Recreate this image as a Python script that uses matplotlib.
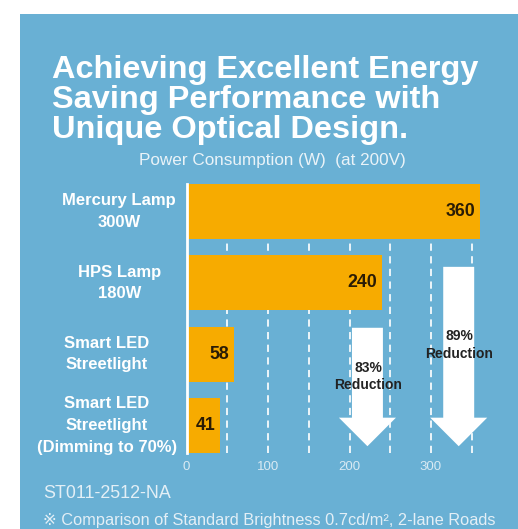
import matplotlib
matplotlib.use("Agg")
import matplotlib.pyplot as plt
from matplotlib.patches import Rectangle, FancyArrow

# ---- data ----
categories = ["Mercury Lamp\n300W", "HPS Lamp\n180W", "Smart LED\nStreetlight",
              "Smart LED\nStreetlight\n(Dimming to 70%)"]
power_w = [360, 240, 58, 41]
xticks = [0, 100, 200, 300]
title = "Achieving Excellent Energy\nSaving Performance with\nUnique Optical Design."
subtitle = "Power Consumption (W)  (at 200V)"
model = "ST011-2512-NA"
note = "\u203b Comparison of Standard Brightness 0.7cd/m\u00b2, 2-lane Roads"

# ---- style ----
BG = "#69b0d4"
BAR = "#f7ab00"
W, H = 518, 529
plt.rcParams['font.family'] = ['Liberation Sans', 'DejaVu Sans']

fig = plt.figure(figsize=(W / 100, H / 100), dpi=100)
fig.patch.set_facecolor("white")
fig.patches.append(Rectangle((20 / W, 0), 1, (H - 14) / H, transform=fig.transFigure,
                             facecolor=BG, edgecolor="none", zorder=-10))

def fx(px):
    return px / W

def fy(py):
    return 1 - py / H

# Title
fig.text(fx(52), fy(55), title, color="white", fontsize=23.4, fontweight="bold",
         ha="left", va="top", linespacing=0.99)
fig.text(fx(272), fy(160), subtitle, color="#eaf3f8", fontsize=12.3, ha="center", va="center")

# Axes
ax = fig.add_axes([fx(186.5), fy(453), (326) / W, (453 - 184) / H])
ax.set_zorder(2)
ax.set_facecolor("none")
ypos = list(range(len(categories)))
ax.set_xlim(0, 400)
ax.set_ylim(len(categories) - 1 + 0.385, -0.385)

for v in range(50, 400, 50):
    ax.axvline(v, color="white", lw=1.3, ls=(0, (4, 3)), zorder=1, alpha=0.95)

ax.barh(ypos, power_w, height=0.77, color=BAR, zorder=2)

for y, v in zip(ypos, power_w):
    ax.text(v - 6, y, str(v), ha="right", va="center", fontsize=12.8,
            fontweight="bold", color="#2a1c05", zorder=3)

for sp in ["top", "right", "bottom"]:
    ax.spines[sp].set_visible(False)
ax.spines["left"].set_color("white")
ax.spines["left"].set_linewidth(2)
ax.spines["left"].set_zorder(4)
ax.set_yticks([])
ax.set_xticks(xticks)
ax.set_xticklabels([str(t) for t in xticks], color="#d9eaf3", fontsize=9.5)
ax.tick_params(axis="x", length=0, pad=6)

# Category labels (centered blocks)
label_cx = [119, 120, 107, 107]
for y, lab, cx in zip(ypos, categories, label_cx):
    ax.annotate(lab, xy=(0, y), xycoords="data",
                xytext=(fx(cx), y), textcoords=("figure fraction", "data"),
                ha="center", va="center", color="white", fontsize=12,
                fontweight="bold", multialignment="center", linespacing=1.55,
                annotation_clip=False)

# Reduction arrows
red_led = round((1 - power_w[3] / power_w[1]) * 100)
red_merc = round((1 - power_w[3] / power_w[0]) * 100)
arrows = [
    (222, 1.63, 3.29, f"{red_led}%\nReduction", 2.31),
    (334, 0.776, 3.29, f"{red_merc}%\nReduction", 1.87),
]
for cx, ytop, ytip, txt, ty in arrows:
    ax.add_patch(FancyArrow(cx, ytop, 0, ytip - ytop, width=38, head_width=70,
                            head_length=0.40, length_includes_head=True,
                            facecolor="white", edgecolor="none", zorder=5))
    ax.text(cx + 1, ty, txt, ha="center", va="center", fontsize=10,
            fontweight="bold", color="#222222", zorder=6, linespacing=1.3)

# Footer
fig.text(fx(43), fy(494), model, color="#e3eff6", fontsize=12.9, ha="left", va="center")
fig.text(fx(43), fy(520), note, color="#e3eff6", fontsize=11.8, ha="left", va="center")

fig.savefig("out.png", dpi=100, facecolor=fig.get_facecolor())
